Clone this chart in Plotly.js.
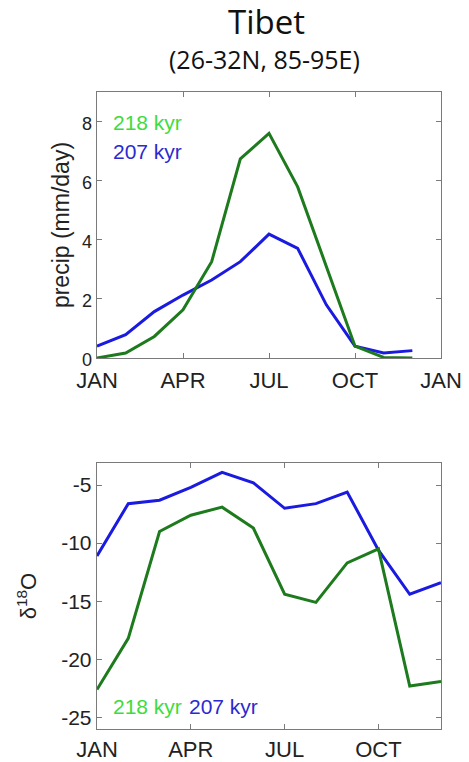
<!DOCTYPE html>
<html>
<head>
<meta charset="utf-8">
<script src="https://cdn.plot.ly/plotly-3.0.1.min.js"></script>
<style>html,body{margin:0;padding:0;background:#fff;}#chart{width:469px;height:762px;}</style>
</head>
<body>
<div id="chart"></div>
<script>
// month index (0 = JAN ... 11 = DEC)
const monthIndex = [0, 1, 2, 3, 4, 5, 6, 7, 8, 9, 10, 11];
const precipTickVals = [0, 3, 6, 9, 12];
const precipTickText = ['JAN', 'APR', 'JUL', 'OCT', 'JAN'];
const d18OTickVals = [0, 3, 6, 9];
const d18OTickText = ['JAN', 'APR', 'JUL', 'OCT'];
const precipYTicks = [0, 2, 4, 6, 8];
const d18OYTicks = [-25, -20, -15, -10, -5];
const d18OYTickText = ['-25', '-20', '-15', '-10', '-5'];

// precipitation (mm/day)
const precip218 = [0.0, 0.17, 0.73, 1.63, 3.26, 6.74, 7.6, 5.79, 3.1, 0.4, 0.02, 0.0];
const precip207 = [0.4, 0.79, 1.57, 2.13, 2.64, 3.26, 4.19, 3.71, 1.8, 0.4, 0.17, 0.25];

// delta 18O
const d18O218 = [-22.6, -18.2, -9.0, -7.6, -6.9, -8.7, -14.4, -15.1, -11.7, -10.5, -22.3, -21.9];
const d18O207 = [-11.1, -6.6, -6.3, -5.2, -3.9, -4.8, -7.0, -6.6, -5.6, -10.6, -14.4, -13.4];

const seriesNames = ['218 kyr', '207 kyr'];

const lineGreen = '#1d7a1d';
const lineBlue = '#1a1ae0';
const labelGreen = '#3ddc3d';
const labelBlue = '#2a2ad0';
const frame = '#7a7a7a';
const tickFont = 'Liberation Sans, Arial, sans-serif';

const traces = [
  {x: monthIndex, y: precip207, xaxis: 'x', yaxis: 'y', mode: 'lines', name: seriesNames[1], line: {color: lineBlue, width: 3}},
  {x: monthIndex, y: precip218, xaxis: 'x', yaxis: 'y', mode: 'lines', name: seriesNames[0], line: {color: lineGreen, width: 3}},
  {x: monthIndex, y: d18O207, xaxis: 'x2', yaxis: 'y2', mode: 'lines', name: seriesNames[1], line: {color: lineBlue, width: 3}},
  {x: monthIndex, y: d18O218, xaxis: 'x2', yaxis: 'y2', mode: 'lines', name: seriesNames[0], line: {color: lineGreen, width: 3}}
];

const axisCommon = {
  showline: true, linecolor: frame, linewidth: 1.3, mirror: 'ticks',
  ticks: 'inside', ticklen: 5, tickcolor: frame, tickwidth: 1,
  showgrid: false, zeroline: false, fixedrange: true
};

const layout = {
  width: 469, height: 762,
  margin: {l: 97, r: 28, t: 92, b: 33},
  paper_bgcolor: '#fff', plot_bgcolor: '#fff',
  showlegend: false,
  xaxis: Object.assign({}, axisCommon, {
    domain: [0, 1], anchor: 'y', range: [0, 12],
    tickvals: precipTickVals, ticktext: precipTickText,
    ticklabelstandoff: 2,
    tickfont: {family: tickFont, size: 22, color: '#222'}
  }),
  yaxis: Object.assign({}, axisCommon, {
    domain: [0.5824, 1], anchor: 'x', range: [0, 9],
    tickvals: precipYTicks, ticklabelshift: 2,
    tickfont: {family: tickFont, size: 18, color: '#222'},
    title: {text: 'precip (mm/day)', font: {family: tickFont, size: 23, color: '#222'}, standoff: 6}
  }),
  xaxis2: Object.assign({}, axisCommon, {
    domain: [0, 1], anchor: 'y2', range: [0, 11],
    tickvals: d18OTickVals, ticktext: d18OTickText,
    tickfont: {family: tickFont, size: 22, color: '#222'}
  }),
  yaxis2: Object.assign({}, axisCommon, {
    domain: [0, 0.4176], anchor: 'x2', range: [-26, -3.1],
    tickvals: d18OYTicks, ticktext: d18OYTickText,
    tickfont: {family: tickFont, size: 21, color: '#222'},
    title: {text: 'δ<sup>18</sup>O', font: {family: tickFont, size: 22, color: '#222'}, standoff: 18}
  }),
  annotations: [
    {xref: 'paper', yref: 'paper', x: 0.494, y: 1.111, xanchor: 'center', yanchor: 'middle', showarrow: false,
     text: 'Tibet', font: {family: 'Open Sans, sans-serif', size: 33, color: '#111'}},
    {xref: 'paper', yref: 'paper', x: 0.487, y: 1.052, xanchor: 'center', yanchor: 'middle', showarrow: false,
     text: '(26-32N, 85-95E)', font: {family: 'Open Sans, sans-serif', size: 25, color: '#111'}},
    {xref: 'x domain', yref: 'y domain', x: 0.04, y: 0.885, xanchor: 'left', yanchor: 'middle', showarrow: false,
     text: seriesNames[0], font: {family: tickFont, size: 21, color: labelGreen}},
    {xref: 'x domain', yref: 'y domain', x: 0.04, y: 0.775, xanchor: 'left', yanchor: 'middle', showarrow: false,
     text: seriesNames[1], font: {family: tickFont, size: 21, color: labelBlue}},
    {xref: 'x2 domain', yref: 'y2 domain', x: 0.04, y: 0.083, xanchor: 'left', yanchor: 'middle', showarrow: false,
     text: seriesNames[0], font: {family: tickFont, size: 21, color: labelGreen}},
    {xref: 'x2 domain', yref: 'y2 domain', x: 0.262, y: 0.083, xanchor: 'left', yanchor: 'middle', showarrow: false,
     text: seriesNames[1], font: {family: tickFont, size: 21, color: labelBlue}}
  ]
};

Plotly.newPlot('chart', traces, layout, {displayModeBar: false, staticPlot: true});
</script>
</body>
</html>
